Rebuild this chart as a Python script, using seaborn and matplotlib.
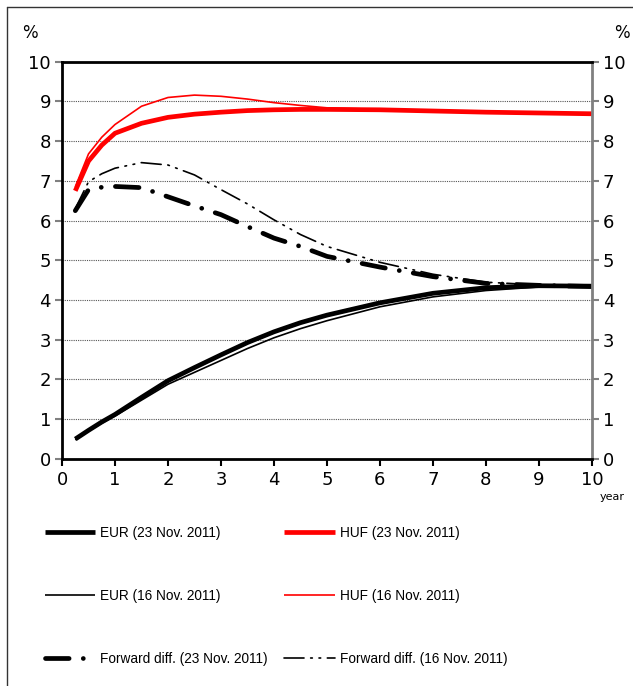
import matplotlib
matplotlib.use("Agg")
import matplotlib.pyplot as plt
from matplotlib.lines import Line2D
import numpy as np
import pandas as pd
import seaborn as sns

# maturities (year) and yields (%)
maturity = [0.25, 0.5, 0.75, 1, 1.5, 2, 2.5, 3, 3.5, 4, 4.5, 5, 6, 7, 8, 9, 10]
eur_23 = [0.5, 0.72, 0.93, 1.12, 1.55, 1.97, 2.3, 2.62, 2.93, 3.2, 3.43, 3.62, 3.93, 4.17, 4.31, 4.36, 4.35]
eur_16 = [0.48, 0.7, 0.9, 1.08, 1.48, 1.88, 2.18, 2.48, 2.78, 3.05, 3.28, 3.48, 3.83, 4.08, 4.24, 4.33, 4.35]
huf_23 = [6.75, 7.5, 7.9, 8.2, 8.45, 8.6, 8.68, 8.73, 8.77, 8.79, 8.8, 8.8, 8.79, 8.76, 8.73, 8.71, 8.69]
huf_16 = [6.85, 7.68, 8.1, 8.42, 8.88, 9.1, 9.16, 9.13, 9.06, 8.97, 8.9, 8.84, 8.8, 8.76, 8.73, 8.71, 8.69]
fwd_23 = [6.25, 6.78, 6.84, 6.86, 6.83, 6.6, 6.37, 6.15, 5.85, 5.56, 5.35, 5.1, 4.83, 4.59, 4.42, 4.37, 4.34]
fwd_16 = [6.3, 6.98, 7.18, 7.32, 7.46, 7.4, 7.15, 6.78, 6.42, 6.02, 5.65, 5.35, 4.95, 4.65, 4.45, 4.38, 4.35]

sns.set_style("white")
plt.rcParams['font.family'] = ['DejaVu Sans']
plt.rcParams['text.color'] = 'black'

fig = plt.figure(figsize=(6.33, 6.86), dpi=100)
ax = fig.add_axes([0.098, 0.331, 0.837, 0.579])

series = [
    (eur_23, 'EUR (23 Nov. 2011)', 'black', 3.4, '-'),
    (eur_16, 'EUR (16 Nov. 2011)', 'black', 1.2, '-'),
    (fwd_23, 'Forward diff. (23 Nov. 2011)', 'black', 3.4, (0, (5, 3, 0.01, 3))),
    (huf_23, 'HUF (23 Nov. 2011)', 'red', 3.4, '-'),
    (huf_16, 'HUF (16 Nov. 2011)', 'red', 1.2, '-'),
    (fwd_16, 'Forward diff. (16 Nov. 2011)', 'black', 1.2, (0, (12, 4, 1, 4, 1, 4))),
]
for vals, name, col, lw, ls in series:
    df = pd.DataFrame({'maturity': maturity, 'yield': vals})
    sns.lineplot(data=df, x='maturity', y='yield', ax=ax, color=col, linewidth=lw,
                 linestyle=ls, label=name, dash_capstyle='round', solid_capstyle='butt')

ax.set_xlim(0, 10)
ax.set_ylim(0, 10)
ax.set_xticks(range(0, 11))
ax.set_yticks(range(0, 11))
ax.set_xlabel('')
ax.set_ylabel('')
ax.grid(axis='y', color='#555555', linestyle=(0, (1, 1)), linewidth=0.8)
ax.set_axisbelow(True)
for s in ['left', 'bottom', 'top']:
    ax.spines[s].set_color('black')
    ax.spines[s].set_linewidth(2)
ax.spines['right'].set_color('#808080')
ax.spines['right'].set_linewidth(2)
ax.tick_params(axis='both', direction='out', length=5, width=1.5, labelsize=13,
               colors='black', labelcolor='black')
ax.tick_params(axis='y', right=True, labelright=True, pad=3)
ax.tick_params(axis='y', which='both', colors='#808080', labelcolor='black')
ax.tick_params(axis='y', left=True)
ax.tick_params(axis='x', bottom=True)
for t in ax.yaxis.get_ticklines()[::2]:
    t.set_color('black')

ax.get_legend().remove()

fig.text(30 / 633, 1 - 33 / 686, '%', ha='center', va='center', fontsize=12, color='black')
fig.text(622 / 633, 1 - 33 / 686, '%', ha='center', va='center', fontsize=12, color='black')
fig.text(612 / 633, 1 - 497 / 686, 'year', ha='center', va='center', fontsize=8, color='black')

handles, labels = ax.get_legend_handles_labels()
leg = fig.legend(handles, labels, ncol=2, loc='upper left', bbox_to_anchor=(45 / 633, 1 - 526 / 686),
                 frameon=False, prop={'family': ['Liberation Sans', 'DejaVu Sans'], 'size': 9.8},
                 handlelength=3.7, handletextpad=0.37, labelspacing=3.6, columnspacing=1.2,
                 borderpad=0, borderaxespad=0)
for t in leg.get_texts():
    t.set_color('black')

# outer frame (left and top edges)
fig.add_artist(Line2D([7 / 633, 7 / 633], [0, 1 - 7 / 686], color='#333333', linewidth=1))
fig.add_artist(Line2D([7 / 633, 1], [1 - 7 / 686, 1 - 7 / 686], color='#333333', linewidth=1))

fig.savefig('out.png', dpi=100)
